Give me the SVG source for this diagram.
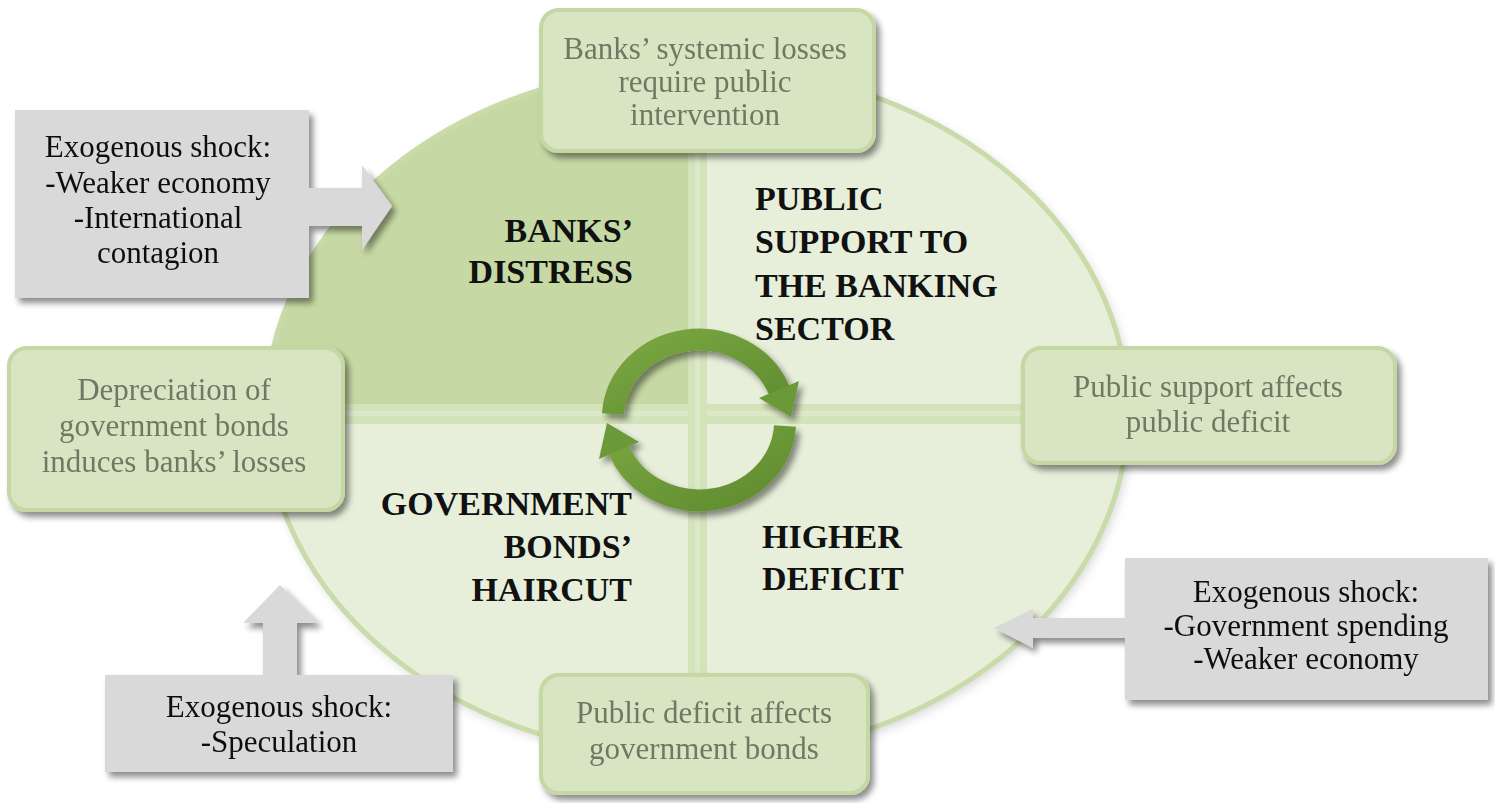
<svg xmlns="http://www.w3.org/2000/svg" width="1495" height="803" viewBox="0 0 1495 803">
  <style>
    .gbox { fill: #d8e5c3; stroke: #c5d8a4; stroke-width: 4; }
    .gtxt { font-family: "Liberation Serif", "Times New Roman", serif; font-size: 31px; fill: #6e7964; text-anchor: middle; }
    .sbox { fill: #d9d9d9; }
    .stxt { font-family: "Liberation Serif", "Times New Roman", serif; font-size: 31px; fill: #111; text-anchor: middle; }
    .qlbl { font-family: "Liberation Serif", "Times New Roman", serif; font-size: 34px; font-weight: bold; fill: #111; }
    .bar { fill: #d3e3ba; }
    .barline { fill: #dce9c8; }
    .cyc { fill: none; stroke: url(#cycGrad); stroke-width: 22; }
    .cychead { fill: #6c9938; }
  </style>
  <defs>
    <filter id="shadow" x="-20%" y="-20%" width="140%" height="150%">
      <feGaussianBlur in="SourceAlpha" stdDeviation="3"/>
      <feOffset dx="4" dy="5" result="b"/>
      <feComponentTransfer><feFuncA type="linear" slope="0.45"/></feComponentTransfer>
      <feMerge><feMergeNode/><feMergeNode in="SourceGraphic"/></feMerge>
    </filter>
    <filter id="soft" x="-10%" y="-10%" width="120%" height="120%">
      <feGaussianBlur in="SourceAlpha" stdDeviation="6"/>
      <feOffset dx="3" dy="4"/>
      <feComponentTransfer><feFuncA type="linear" slope="0.18"/></feComponentTransfer>
      <feMerge><feMergeNode/><feMergeNode in="SourceGraphic"/></feMerge>
    </filter>
    <linearGradient id="cycGrad" x1="0" y1="0" x2="1" y2="1">
      <stop offset="0" stop-color="#7aa742"/>
      <stop offset="1" stop-color="#5f8b2f"/>
    </linearGradient>
    <clipPath id="disc">
      <ellipse cx="697" cy="412" rx="431" ry="346"/>
    </clipPath>
  </defs>

  <rect width="1495" height="803" fill="#ffffff"/>

  <!-- big disc split into four quadrants -->
  <g id="disc-bg">
    <ellipse cx="697" cy="412" rx="431" ry="346" fill="#e7efdb" filter="url(#soft)"/>
    <g clip-path="url(#disc)">
      <rect x="250" y="60" width="447" height="354" fill="#c6d9a4"/>
    </g>
    <ellipse cx="697" cy="412" rx="431" ry="346" fill="none" stroke="#c8dba8" stroke-width="5"/>
  </g>

  <!-- connectors: cross bars and the cycle -->
  <g id="connectors">
    <rect class="bar" x="343" y="404" width="680" height="20"/>
    <rect class="barline" x="343" y="411" width="680" height="5"/>
    <rect class="bar" x="688" y="150" width="19" height="526"/>
    <rect class="barline" x="695" y="150" width="5" height="526"/>

    <g id="cycle" filter="url(#shadow)">
      <path class="cyc" d="M 613 414 A 86 79 0 0 1 779 390"/>
      <polygon class="cychead" points="799,381 759,398 791,417"/>
      <path class="cyc" d="M 785 426 A 86 79 0 0 1 619 450"/>
      <polygon class="cychead" points="599,459 639,442 607,423"/>
    </g>
  </g>

  <!-- quadrant titles -->
  <g id="q-banks-distress">
    <text class="qlbl" x="633" y="242" text-anchor="end">BANKS’</text>
    <text class="qlbl" x="633" y="283" text-anchor="end">DISTRESS</text>
  </g>
  <g id="q-public-support">
    <text class="qlbl" x="755" y="210">PUBLIC</text>
    <text class="qlbl" x="755" y="253">SUPPORT TO</text>
    <text class="qlbl" x="755" y="297">THE BANKING</text>
    <text class="qlbl" x="755" y="340">SECTOR</text>
  </g>
  <g id="q-bonds-haircut">
    <text class="qlbl" x="632" y="515" text-anchor="end">GOVERNMENT</text>
    <text class="qlbl" x="632" y="558" text-anchor="end">BONDS’</text>
    <text class="qlbl" x="632" y="601" text-anchor="end">HAIRCUT</text>
  </g>
  <g id="q-higher-deficit">
    <text class="qlbl" x="762" y="548">HIGHER</text>
    <text class="qlbl" x="762" y="590">DEFICIT</text>
  </g>

  <!-- transmission boxes -->
  <g id="n-systemic-losses" filter="url(#shadow)">
    <rect class="gbox" x="541" y="10" width="333" height="141" rx="18"/>
    <text class="gtxt" x="705" y="59">Banks’ systemic losses</text>
    <text class="gtxt" x="705" y="92">require public</text>
    <text class="gtxt" x="705" y="125">intervention</text>
  </g>
  <g id="n-support-deficit" filter="url(#shadow)">
    <rect class="gbox" x="1023" y="348" width="372" height="115" rx="18"/>
    <text class="gtxt" x="1208" y="397">Public support affects</text>
    <text class="gtxt" x="1208" y="432">public deficit</text>
  </g>
  <g id="n-deficit-bonds" filter="url(#shadow)">
    <rect class="gbox" x="541" y="675" width="327" height="118" rx="18"/>
    <text class="gtxt" x="704" y="723">Public deficit affects</text>
    <text class="gtxt" x="704" y="759">government bonds</text>
  </g>
  <g id="n-depreciation" filter="url(#shadow)">
    <rect class="gbox" x="9" y="348" width="334" height="162" rx="18"/>
    <text class="gtxt" x="174" y="400">Depreciation of</text>
    <text class="gtxt" x="174" y="436">government bonds</text>
    <text class="gtxt" x="174" y="472">induces banks’ losses</text>
  </g>

  <!-- exogenous shocks -->
  <g id="n-shock-economy" filter="url(#shadow)">
    <polygon class="sbox" points="300,188 362,188 362,165 392,206 362,250 362,226 300,226"/>
    <rect class="sbox" x="15" y="110" width="294" height="188"/>
    <text class="stxt" x="158" y="157">Exogenous shock:</text>
    <text class="stxt" x="158" y="193">-Weaker economy</text>
    <text class="stxt" x="158" y="228">-International</text>
    <text class="stxt" x="158" y="263">contagion</text>
  </g>
  <g id="n-shock-speculation" filter="url(#shadow)">
    <polygon class="sbox" points="263,680 263,623 243,623 280,585 318,623 297,623 297,680"/>
    <rect class="sbox" x="105" y="675" width="348" height="97"/>
    <text class="stxt" x="279" y="717">Exogenous shock:</text>
    <text class="stxt" x="279" y="752">-Speculation</text>
  </g>
  <g id="n-shock-spending" filter="url(#shadow)">
    <polygon class="sbox" points="1130,618 1033,618 1033,609 994,628 1033,648 1033,638 1130,638"/>
    <rect class="sbox" x="1125" y="558" width="363" height="142"/>
    <text class="stxt" x="1306" y="602">Exogenous shock:</text>
    <text class="stxt" x="1306" y="636">-Government spending</text>
    <text class="stxt" x="1306" y="669">-Weaker economy</text>
  </g>
</svg>
